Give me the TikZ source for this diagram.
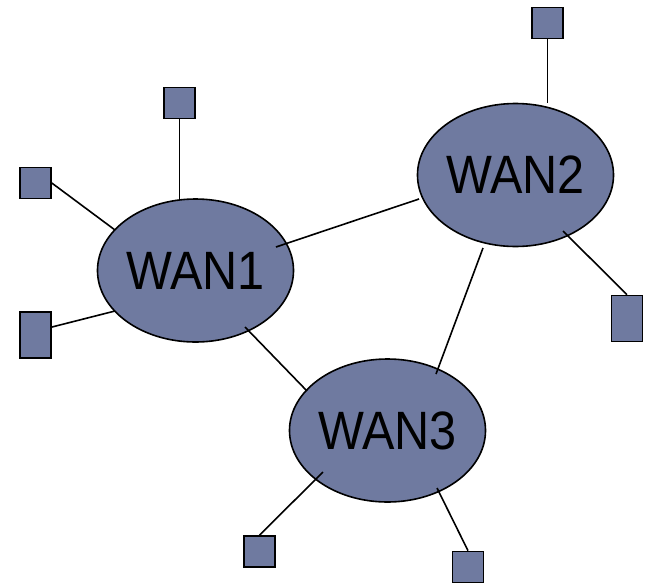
\documentclass[tikz,border=0pt]{standalone}
\usepackage{fontspec}
\newfontfamily\lblfont[FakeStretch=0.9]{Liberation Sans}
\usetikzlibrary{shapes.geometric}
\definecolor{netfill}{RGB}{111,122,160}
\begin{document}
\begin{tikzpicture}[x=1pt,y=-1pt,
  wan/.style={draw=black, fill=netfill, ellipse, line width=1.6pt,
    minimum width=191pt, minimum height=143pt, inner sep=0pt,
    font=\lblfont\fontsize{54}{54}\selectfont},
  host/.style={draw=black, fill=netfill, rectangle, line width=1.6pt,
    minimum width=31pt, minimum height=31pt, inner sep=0pt},
  tallhost/.style={host, minimum height=46pt},
  link/.style={draw=black, line width=1.6pt}]
\useasboundingbox (0,0) rectangle (648,584);

% the three wide-area networks
\node[wan] (wan1) at (195.5,270.5) {WAN1};
\node[wan] (wan2) at (515.5,175) {WAN2};
\node[wan] (wan3) at (387.5,430.5) {WAN3};

% link end points on or inside the network clouds
\coordinate (w1t)  at (179.5,199);
\coordinate (w1ul) at (115,230);
\coordinate (w1ll) at (115,311);
\coordinate (w1r)  at (276,247);
\coordinate (w1b)  at (245,327);
\coordinate (w2t)  at (547.5,103);
\coordinate (w2l)  at (419,199);
\coordinate (w2br) at (563,231);
\coordinate (w2b)  at (483,248);
\coordinate (w3l)  at (307,391);
\coordinate (w3t)  at (436,374);
\coordinate (w3bl) at (323,472);
\coordinate (w3br) at (437,488);
\coordinate (l2p)  at (52,327);

% hosts attached to the networks
\node[host]     (t1) at (179.5,103) {};
\node[host]     (l1) at (35.5,183) {};
\node[tallhost] (l2) at (35.5,335) {};
\node[host]     (t2) at (547.5,23) {};
\node[tallhost] (r2) at (627,318.5) {};
\node[host]     (b1) at (259.5,551.5) {};
\node[host]     (b2) at (468,567) {};

% connections between the networks
\draw[link] (w1r) -- (w2l);
\draw[link] (w1b) -- (w3l);
\draw[link] (w2b) -- (w3t);

% host access links
\draw[link] (t1.south) -- (w1t);
\draw[link] (l1.east) -- (w1ul);
\draw[link] (l2p) -- (w1ll);
\draw[link] (t2.south) -- (w2t);
\draw[link] (w2br) -- (r2.north);
\draw[link] (w3bl) -- (b1.north);
\draw[link] (w3br) -- (b2.north);

% redraw hosts above the link ends
\node[host]     at (t1) {};
\node[host]     at (l1) {};
\node[tallhost] at (l2) {};
\node[host]     at (t2) {};
\node[tallhost] at (r2) {};
\node[host]     at (b1) {};
\node[host]     at (b2) {};
\end{tikzpicture}
\end{document}
